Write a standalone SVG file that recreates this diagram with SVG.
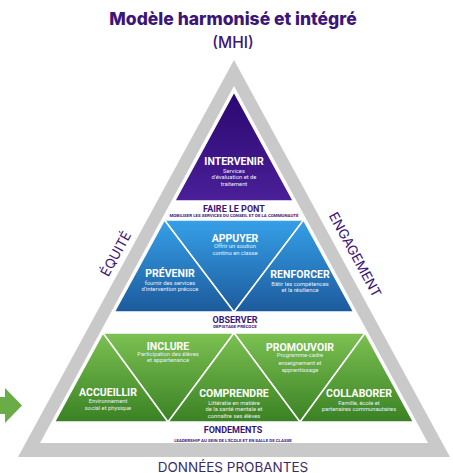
<svg xmlns="http://www.w3.org/2000/svg" width="453" height="473" viewBox="0 0 453 473">
<defs>
<linearGradient id="gPurple" gradientUnits="userSpaceOnUse" x1="0" y1="92" x2="0" y2="201"><stop offset="0" stop-color="#2a0870"/><stop offset="1" stop-color="#4a1f98"/></linearGradient>
<linearGradient id="gBlue" gradientUnits="userSpaceOnUse" x1="0" y1="220" x2="0" y2="312"><stop offset="0" stop-color="#36a0e8"/><stop offset="1" stop-color="#1c5a9c"/></linearGradient>
<linearGradient id="gGreen" gradientUnits="userSpaceOnUse" x1="0" y1="333" x2="0" y2="422"><stop offset="0" stop-color="#7cc151"/><stop offset="1" stop-color="#3a8124"/></linearGradient>
<style>
.tri{stroke:#ffffff;stroke-width:1.5;stroke-linejoin:miter}
.lbl{font-family:Roboto,"Liberation Sans",sans-serif;font-weight:700;font-size:10.5px;fill:#ffffff;text-anchor:middle}
.sub{font-family:Roboto,"Liberation Sans",sans-serif;font-weight:400;font-size:5.8px;fill:#e8eef8;text-anchor:middle}
.gap{font-family:Roboto,"Liberation Sans",sans-serif;font-weight:700;font-size:9px;fill:#3b1578;text-anchor:middle}
.tiny{font-family:Roboto,"Liberation Sans",sans-serif;font-weight:700;font-size:4.4px;fill:#3b1578;text-anchor:middle}
.side{font-family:Inter,"Liberation Sans",sans-serif;font-weight:400;font-size:13.5px;fill:#3b1578;text-anchor:middle}
</style>
</defs>
<rect width="453" height="473" fill="#ffffff"/>
<g id="title">
<text x="233" y="25" font-family="Inter,'Liberation Sans',sans-serif" font-weight="800" font-size="17.5" fill="#3b1578" text-anchor="middle">Modèle harmonisé et intégré</text>
<text x="233" y="48" font-family="Inter,'Liberation Sans',sans-serif" font-weight="500" font-size="15.5" fill="#3b1578" text-anchor="middle">(MHI)</text>
</g>
<g id="frame">
<polygon points="234,60 18,457 450,457" fill="#c9c9c9"/>
<polygon points="234,86 40,443 428,443" fill="#ffffff"/>
</g>
<g id="arrow">
<polygon points="0,397 5,397 5,388 22,405.5 5,423 5,414 0,414" fill="#6aac45"/>
</g>
<g id="side-labels">
<text class="side" transform="translate(120,256) rotate(-61.45)">ÉQUITÉ</text>
<text class="side" transform="translate(351,257) rotate(61.45)">ENGAGEMENT</text>
</g>
<g id="intervenir">
<polygon class="tri" points="234,92 174.7,201 293.3,201" fill="url(#gPurple)"/>
<text class="lbl" x="234" y="165">INTERVENIR</text>
<text class="sub" x="234" y="172.7">Services</text>
<text class="sub" x="234" y="179.3">d'évaluation et de</text>
<text class="sub" x="234" y="186">traitement</text>
</g>
<g id="faire-le-pont">
<text class="gap" x="234" y="211.7">FAIRE LE PONT</text>
<text class="tiny" x="234" y="217.3">MOBILISER LES SERVICES DU CONSEIL ET DE LA COMMUNAUTÉ</text>
</g>
<g id="appuyer">
<polygon class="tri" points="164.4,220 303.6,220 234,312" fill="url(#gBlue)"/>
<text class="lbl" x="235" y="241.5">APPUYER</text>
<text class="sub" x="235" y="248">Offrir un soution</text>
<text class="sub" x="235" y="254.7">continu en classe</text>
</g>
<g id="prevenir">
<polygon class="tri" points="164.4,220 114.3,312 234,312" fill="url(#gBlue)"/>
<text class="lbl" x="170" y="277">PRÉVENIR</text>
<text class="sub" x="170" y="284.7">fournir des services</text>
<text class="sub" x="170" y="291.3">d'intervention précoce</text>
</g>
<g id="renforcer">
<polygon class="tri" points="303.6,220 234,312 353.7,312" fill="url(#gBlue)"/>
<text class="lbl" x="300" y="277.5">RENFORCER</text>
<text class="sub" x="300" y="285.5">Bâtir les compétences</text>
<text class="sub" x="300" y="291.7">et la résilience</text>
</g>
<g id="observer">
<text class="gap" x="235" y="322.7">OBSERVER</text>
<text class="tiny" x="235" y="327.8">DÉPISTAGE PRÉCOCE</text>
</g>
<g id="inclure">
<polygon class="tri" points="102.9,333 234,333 168,422" fill="url(#gGreen)"/>
<text class="lbl" x="168" y="349.5">INCLURE</text>
<text class="sub" x="168" y="356.3">Participation des élèves</text>
<text class="sub" x="168" y="362">et appartenance</text>
</g>
<g id="promouvoir">
<polygon class="tri" points="234,333 365.1,333 300,422" fill="url(#gGreen)"/>
<text class="lbl" x="300" y="350.5">PROMOUVOIR</text>
<text class="sub" x="300" y="357">Programme-cadre</text>
<text class="sub" x="300" y="364.5">enseignement et</text>
<text class="sub" x="300" y="372">apprentissage</text>
</g>
<g id="accueillir">
<polygon class="tri" points="102.9,333 54.5,422 168,422" fill="url(#gGreen)"/>
<text class="lbl" x="108" y="396">ACCUEILLIR</text>
<text class="sub" x="108" y="403">Environnement</text>
<text class="sub" x="108" y="410">social et physique</text>
</g>
<g id="comprendre">
<polygon class="tri" points="234,333 168,422 300,422" fill="url(#gGreen)"/>
<text class="lbl" x="234" y="397.3">COMPRENDRE</text>
<text class="sub" x="234" y="404.5">Littératie en matière</text>
<text class="sub" x="234" y="411">de la santé mentale et</text>
<text class="sub" x="234" y="417.5">connaître ses élèves</text>
</g>
<g id="collaborer">
<polygon class="tri" points="365.1,333 300,422 413.5,422" fill="url(#gGreen)"/>
<text class="lbl" x="359" y="397.3">COLLABORER</text>
<text class="sub" x="359" y="404.5">Famille, école et</text>
<text class="sub" x="359" y="411">partenaires communautaires</text>
</g>
<g id="fondements">
<text class="gap" x="233" y="433.3" font-size="10">FONDEMENTS</text>
<text class="tiny" x="233" y="441.5" font-size="4">LEADERSHIP AU SEIN DE L'ÉCOLE ET EN SALLE DE CLASSE</text>
</g>
<g id="donnees">
<text x="233" y="471.5" font-family="Inter,'Liberation Sans',sans-serif" font-weight="400" font-size="13.5" fill="#3b2a6b" text-anchor="middle">DONNÉES PROBANTES</text>
</g>
</svg>
